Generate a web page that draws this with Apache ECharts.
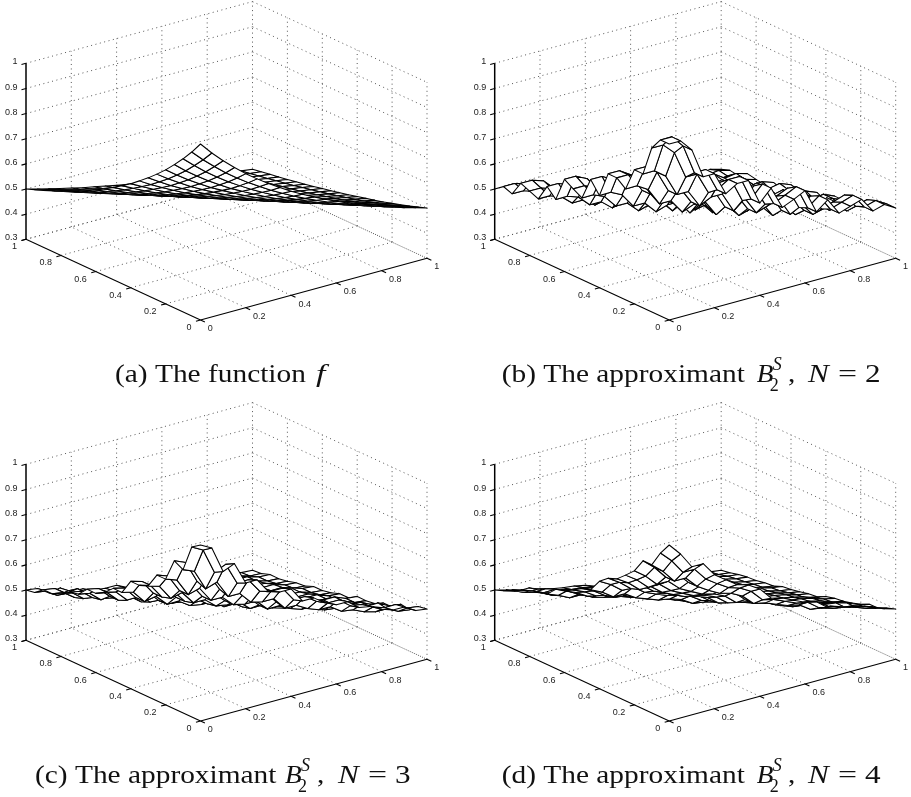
<!DOCTYPE html>
<html><head><meta charset="utf-8">
<style>html,body{margin:0;padding:0;background:#fff}#c{width:911px;height:797px}</style>
<script src="https://cdn.jsdelivr.net/npm/echarts@6/dist/echarts.min.js"></script>
</head><body><div id="c"></div>
<script>
// Values estimated by eye from the reference: height level by mesh-step position along x+y.
var surfaceLevels = [1,.976,.952,.93,.909,.889,.87,.851,.833,.816,.8,.784,.769,.755,.741,.727,.714,.702,.69,.678,
.667,.656,.645,.635,.625,.615,.606,.597,.588,.58,.571,.563,.556,.548,.541,.533,.526,.519,.513,.506,
.5,.494,.488,.482,.476,.471,.465,.46,.455,.449,.444,.44,.435,.43,.426,.421,.417,.412,.408,.404,
.4,.396,.392,.388,.385,.381,.377,.374,.37,.367,.364,.36,.357,.354,.351,.348,.345,.342,.339,.336,.333];
var stepsA = [0,2,4,6,8,10,12,14,16,18,20,22,24,26,28,30,32,34,36,38,40];
var stepsB = [0,0,2,8,8,14,12,12,20,16,24,22,20,30,26,34,32,30,38,36,40];
var stepsC = [0,1,6,5,10,10,14,15,15,20,20,23,25,25,29,30,33,35,35,39,40];
var stepsD = [0,2,5,5,8,10,12,13,15,19,20,22,24,25,29,30,32,33,35,38,40];
var meshX = [0,.05,.1,.15,.2,.25,.3,.35,.4,.45,.5,.55,.6,.65,.7,.75,.8,.85,.9,.95,1];
var planTicks = [0,.2,.4,.6,.8,1];
var planLabels = ['0','0.2','0.4','0.6','0.8','1'];
var heightTicks = [.3,.4,.5,.6,.7,.8,.9,1];
var heightLabels = ['0.3','0.4','0.5','0.6','0.7','0.8','0.9','1'];
var panelSteps = [stepsA,stepsB,stepsC,stepsD];
var panelShift = [[0,0],[468.7,0],[0,401],[468.7,401]];

// projection of the axis box (az/el view of the reference)
var VX=[226.5,61.7], VY=[-174.5,80.7], VZ=176, ZMIN=.3, ZSPAN=.7;
function proj(x,y,z){return [VX[0]*x+VY[0]*y, VX[1]*x+VY[1]*y+VZ*(z-ZMIN)/ZSPAN];}

function segSeries(idx,rows,style,z){
  return {type:'custom',xAxisIndex:idx,yAxisIndex:idx,z:z,silent:true,clip:false,animation:false,
    data:rows,renderItem:function(p,api){
      var a=api.coord([api.value(0),api.value(1)]),b=api.coord([api.value(2),api.value(3)]);
      return {type:'line',shape:{x1:a[0],y1:a[1],x2:b[0],y2:b[1]},style:style};
    }};
}
function textSeries(idx,rows,labels,dx,dy,align){
  return {type:'custom',xAxisIndex:idx,yAxisIndex:idx,z:5,silent:true,clip:false,animation:false,
    data:rows,renderItem:function(p,api){
      var a=api.coord([api.value(0),api.value(1)]);
      return {type:'text',style:{x:a[0]+dx,y:a[1]+dy,text:labels[p.dataIndex],align:align,verticalAlign:'middle',
        fontFamily:'Liberation Sans',fontSize:9,fill:'#222'}};
    }};
}
var grids=[],xAxes=[],yAxes=[],series=[];
var dotted={stroke:'#555',lineWidth:1,lineDash:[1,3.5],fill:null};
var solid={stroke:'#000',lineWidth:1.1,fill:null};
var thick={stroke:'#000',lineWidth:1.5,fill:null};
panelSteps.forEach(function(steps,k){
  var s=panelShift[k], H=VX[1]+VY[1]+VZ;
  grids.push({left:26+s[0],top:320-H+s[1],width:401,height:H});
  xAxes.push({type:'value',gridIndex:k,min:VY[0],max:VX[0],show:false});
  yAxes.push({type:'value',gridIndex:k,min:0,max:H,show:false});
  var dots=[];
  function seg(a,b){return a.concat(b);}
  planTicks.forEach(function(t){
    if(t>0){
      dots.push(seg(proj(t,0,ZMIN),proj(t,1,ZMIN)));
      dots.push(seg(proj(t,1,ZMIN),proj(t,1,1)));
      dots.push(seg(proj(0,t,ZMIN),proj(1,t,ZMIN)));
    }
    if(t<1) dots.push(seg(proj(1,t,ZMIN),proj(1,t,1)));
  });
  heightTicks.forEach(function(h){
    dots.push(seg(proj(0,1,h),proj(1,1,h)));
    dots.push(seg(proj(1,1,h),proj(1,0,h)));
  });
  series.push(segSeries(k,dots,dotted,1));
  var ax=[seg(proj(0,0,ZMIN),proj(1,0,ZMIN)),seg(proj(0,0,ZMIN),proj(0,1,ZMIN))];
  planTicks.forEach(function(t){
    ax.push(seg(proj(t,0,ZMIN),proj(t,-.025,ZMIN)));
    ax.push(seg(proj(0,t,ZMIN),proj(-.02,t,ZMIN)));
  });
  heightTicks.forEach(function(h){ax.push(seg(proj(0,1,h),proj(-.02,1,h)));});
  series.push(segSeries(k,ax,solid,2));
  series.push(segSeries(k,[seg(proj(0,1,ZMIN),proj(0,1,1))],thick,2));
  // mesh cells, farthest first
  var cells=[];
  for(var i=meshX.length-2;i>=0;i--){
    for(var j=meshX.length-2;j>=0;j--){
      var n=function(a,b){return proj(meshX[a],meshX[b],surfaceLevels[steps[a]+steps[b]]);};
      cells.push([].concat(n(i,j),n(i+1,j),n(i+1,j+1),n(i,j+1)));
    }
  }
  series.push({type:'custom',xAxisIndex:k,yAxisIndex:k,z:3,silent:true,clip:false,animation:false,data:cells,
    renderItem:function(p,api){
      var pts=[0,2,4,6].map(function(q){return api.coord([api.value(q),api.value(q+1)]);});
      return {type:'polygon',shape:{points:pts},style:{fill:'#fff',stroke:'#000',lineWidth:1.05,lineJoin:'round'}};
    }});
  series.push(textSeries(k,planTicks.map(function(t){return proj(t,0,ZMIN);}),planLabels,7.3,8.7,'left'));
  series.push(textSeries(k,planTicks.map(function(t){return proj(0,t,ZMIN);}),planLabels,-9,7.5,'right'));
  series.push(textSeries(k,heightTicks.map(function(h){return proj(0,1,h);}),heightLabels,-8.5,-1.3,'right'));
});

function cap(x,y,text,size,italic,sx){
  return {type:'text',x:x,y:y,scaleX:sx||1.13,silent:true,z:10,style:{x:0,y:0,text:text,fontFamily:'Liberation Serif',fontSize:size,
    fontStyle:italic?'italic':'normal',fill:'#111',verticalAlign:'middle'}};
}
var BY=375;
function approx(x,y,tag,num,xs){
  return [cap(x,y,tag+' The approximant',26),
    cap(xs[0],y,'B',26,true,1.05),cap(xs[0]+16,y-10,'S',18,true,1),cap(xs[0]+13,y+11,'2',18,false,1),
    cap(xs[1],y,',',26),cap(xs[2],y,'N',26,true,1.2),cap(xs[3],y,'=',26,false,1.3),cap(xs[4],y,num,26,false,1.2)];
}
var graphics=[cap(115,BY,'(a) The function',26),cap(316,BY,'f',26,true,1.3)]
 .concat(approx(501.7,BY,'(b)','2',[756.7,788,808,838,865]))
 .concat(approx(35,BY+401,'(c)','3',[285,317,338,368,395]))
 .concat(approx(501.7,BY+401,'(d)','4',[756.7,788,808,838,865]));

var chart=echarts.init(document.getElementById('c'),null,{renderer:'canvas'});
chart.setOption({animation:false,backgroundColor:'#fff',grid:grids,xAxis:xAxes,yAxis:yAxes,series:series,graphic:{elements:graphics}});
</script></body></html>
